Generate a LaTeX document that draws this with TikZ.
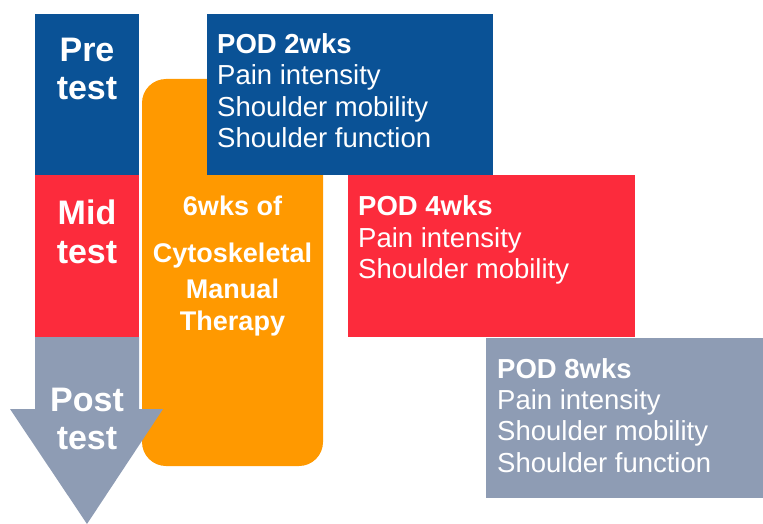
\documentclass[tikz,border=0pt]{standalone}
\usepackage{fontspec}
\setmainfont{Liberation Sans}
\definecolor{podblue}{HTML}{0A5296}
\definecolor{podred}{HTML}{FC2B3C}
\definecolor{podgray}{HTML}{8E9CB4}
\definecolor{therorange}{HTML}{FF9900}
\begin{document}
\begin{tikzpicture}[x=1pt,y=-1pt,
  block/.style={draw=none, inner sep=0pt, outer sep=0pt, anchor=north west},
  phase/.style={font=\bfseries\fontsize{34}{38}\selectfont, text=white, anchor=base, inner sep=0pt},
  head/.style={font=\bfseries\fontsize{27.5}{31}\selectfont, text=white, anchor=base west, inner sep=0pt},
  item/.style={font=\fontsize{27.5}{31}\selectfont, text=white, anchor=base west, inner sep=0pt},
  therapy/.style={font=\bfseries\fontsize{27}{30}\selectfont, text=white, anchor=base, inner sep=0pt}]
\useasboundingbox (0,0) rectangle (763,524);

% timeline column
\node[block, fill=podblue, minimum width=104pt, minimum height=161pt] (pre) at (35,14) {};
\node[block, fill=podred, minimum width=104pt, minimum height=162pt] (mid) at (35,175) {};

% intervention
\node[block, fill=therorange, rounded corners=24pt, minimum width=181pt, minimum height=387pt] (ther) at (142,79) {};
\node[therapy] (t1) at (232.5,215) {6wks of};
\node[therapy] (t2) at (232.5,262) {Cytoskeletal};
\node[therapy] (t3) at (232.5,298) {Manual};
\node[therapy] (t4) at (232.5,330) {Therapy};

% post-test arrow
\coordinate (tip) at (87,524);
\fill[podgray] (35,337) -- (139,337) -- (139,409) -- (163,409) -- (tip) -- (10,409) -- (35,409) -- cycle;

\node[phase] (p1) at (87,62) {Pre};
\node[phase] (p2) at (87,100) {test};
\node[phase] (m1) at (87,224) {Mid};
\node[phase] (m2) at (87,263) {test};
\node[phase] (q1) at (87,411) {Post};
\node[phase] (q2) at (87,449) {test};

% follow-up boxes
\node[block, fill=podblue, minimum width=286pt, minimum height=161pt] (pod2) at (207,14) {};
\node[head] (a0) at (217,54) {POD 2wks};
\node[item] (a1) at (217,85) {Pain intensity};
\node[item] (a2) at (217,117) {Shoulder mobility};
\node[item] (a3) at (217,148) {Shoulder function};

\node[block, fill=podred, minimum width=287pt, minimum height=162pt] (pod4) at (348,175) {};
\node[head] (b0) at (358,215) {POD 4wks};
\node[item] (b1) at (358,247) {Pain intensity};
\node[item] (b2) at (358,278) {Shoulder mobility};

\node[block, fill=podgray, minimum width=277pt, minimum height=160pt] (pod8) at (486,338) {};
\node[head] (c0) at (497,378) {POD 8wks};
\node[item] (c1) at (497,409) {Pain intensity};
\node[item] (c2) at (497,440) {Shoulder mobility};
\node[item] (c3) at (497,472) {Shoulder function};
\end{tikzpicture}
\end{document}
